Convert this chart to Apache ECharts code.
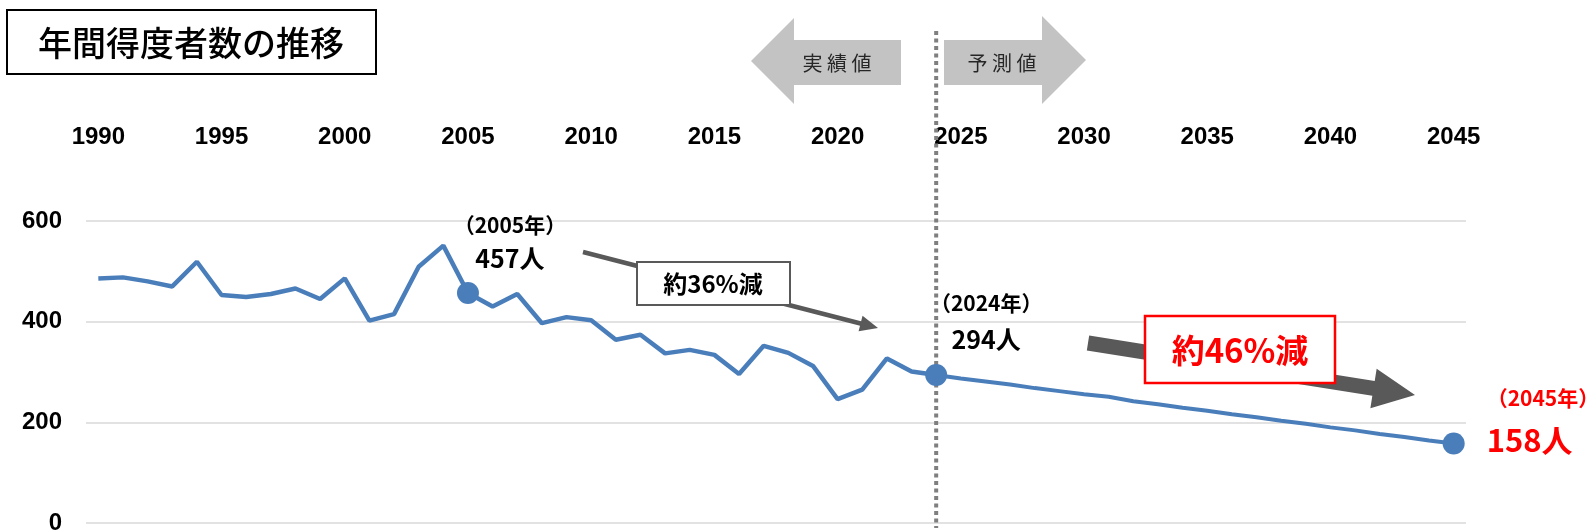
<!DOCTYPE html>
<html>
<head>
<meta charset="utf-8">
<script src="https://cdn.jsdelivr.net/npm/echarts@6/dist/echarts.min.js"></script>
<style>
  html, body { margin: 0; padding: 0; background: #fff; }
  #chart { width: 1592px; height: 531px; }
</style>
</head>
<body>
<div id="chart"></div>
<script>
// 年（カテゴリ）
const years = ['1990','1991','1992','1993','1994','1995','1996','1997','1998','1999',
  '2000','2001','2002','2003','2004','2005','2006','2007','2008','2009',
  '2010','2011','2012','2013','2014','2015','2016','2017','2018','2019',
  '2020','2021','2022','2023','2024','2025','2026','2027','2028','2029',
  '2030','2031','2032','2033','2034','2035','2036','2037','2038','2039',
  '2040','2041','2042','2043','2044','2045'];
// 実績値 1990-2024
const actualValues = [486, 488, 480, 470, 519, 453, 449, 455, 466, 445,
  486, 402, 415, 509, 551, 457, 430, 455, 397, 409,
  403, 364, 374, 337, 344, 334, 296, 352, 338, 312,
  246, 265, 327, 301, 294];
// 予測値 2024-2045
const forecastStart = '2024';
const forecastValues = [294, 287, 281, 275, 268, 262, 256, 251, 242, 236, 229,
  223, 216, 210, 203, 197, 190, 184, 177, 171, 164, 158];
const yTicks = [0, 200, 400, 600];
const calloutYears = ['2005', '2024', '2045'];

const blue = '#4A7EBB';
const numFont = '"Liberation Sans", Arial, sans-serif';
const jpFont = '"Noto Sans CJK JP", sans-serif';

const chart = echarts.init(document.getElementById('chart'));

function blackLabel(offsetX, lh) {
  return {
    show: true, position: 'top', distance: 6, offset: [offsetX, 0],
    align: 'center', fontFamily: jpFont, color: '#000',
    rich: {
      a: { fontSize: 21, fontWeight: 'bold', lineHeight: lh, fontFamily: jpFont, color: '#000' },
      b: { fontSize: 25, fontWeight: 'bold', lineHeight: lh, fontFamily: jpFont, color: '#000' }
    }
  };
}

const actualData = actualValues.map(function (v, i) {
  const y = years[i];
  if (calloutYears.indexOf(y) < 0) return v;
  const label = y === '2005' ? blackLabel(42, 34) : blackLabel(50, 37);
  label.formatter = '{a|（' + y + '年）}\n{b|' + v + '人}';
  return { value: v, symbol: 'circle', symbolSize: 22, label: label };
});

const startIdx = years.indexOf(forecastStart);
const forecastData = years.map(function (y, i) {
  if (i < startIdx) return null;
  const v = forecastValues[i - startIdx];
  if (y === '2045') {
    return {
      value: v, symbol: 'circle', symbolSize: 22,
      label: {
        show: true, position: 'right', distance: 22, offset: [0, -24], align: 'left',
        formatter: '{a|（' + y + '年）}\n{b|' + v + '人}',
        rich: {
          a: { fontSize: 21, fontWeight: 'bold', lineHeight: 42, fontFamily: jpFont, color: '#ff0000' },
          b: { fontSize: 31, fontWeight: 'bold', lineHeight: 42, fontFamily: jpFont, color: '#ff0000' }
        }
      }
    };
  }
  return v;
});

const option = {
  animation: false,
  backgroundColor: '#fff',
  grid: { left: 86, right: 126, top: 221, bottom: 8, containLabel: false, outerBoundsMode: 'none' },
  xAxis: {
    type: 'category',
    position: 'top',
    data: years,
    boundaryGap: true,
    axisLine: { show: false },
    axisTick: { show: false },
    splitLine: { show: false },
    axisLabel: {
      interval: function (idx, val) { return (Number(val) - 1990) % 5 === 0; },
      margin: 72,
      fontSize: 24, fontWeight: 'bold', color: '#000', fontFamily: numFont
    }
  },
  yAxis: {
    type: 'value',
    min: yTicks[0], max: yTicks[yTicks.length - 1], interval: 200,
    axisLine: { show: false },
    axisTick: { show: false },
    splitLine: { lineStyle: { color: '#d9d9d9', width: 1.5 } },
    axisLabel: { margin: 24, fontSize: 24, fontWeight: 'bold', color: '#000', fontFamily: numFont }
  },
  series: [
    {
      name: '実績値', type: 'line', data: actualData,
      symbol: 'none', showSymbol: true, showAllSymbol: true,
      itemStyle: { color: blue },
      lineStyle: { color: blue, width: 4.5 },
      z: 3
    },
    {
      name: '予測値', type: 'line', data: forecastData,
      symbol: 'none', showSymbol: true, showAllSymbol: true,
      itemStyle: { color: blue },
      lineStyle: { color: blue, width: 4 },
      z: 3
    }
  ]
};
chart.setOption(option);

// arrow polygon
function arrowPts(x1, y1, x2, y2, shaft, headLen, headW) {
  const dx = x2 - x1, dy = y2 - y1, L = Math.hypot(dx, dy);
  const ux = dx / L, uy = dy / L, nx = -uy, ny = ux;
  const bx = x2 - ux * headLen, by = y2 - uy * headLen;
  const s = shaft / 2, h = headW / 2;
  return [[x1 + nx * s, y1 + ny * s], [bx + nx * s, by + ny * s], [bx + nx * h, by + ny * h],
    [x2, y2], [bx - nx * h, by - ny * h], [bx - nx * s, by - ny * s], [x1 - nx * s, y1 - ny * s]];
}

function txt(x, y, text, size, weight, color) {
  return {
    type: 'text', x: x, y: y, z: 20,
    style: {
      text: text, fontSize: size, fontWeight: weight, fontFamily: jpFont, fill: color,
      align: 'center', verticalAlign: 'middle', textAlign: 'center', textVerticalAlign: 'middle'
    }
  };
}

const splitX = chart.convertToPixel({ xAxisIndex: 0 }, forecastStart);

chart.setOption({
  graphic: [
    // 区切りの点線
    { type: 'line', z: 1, shape: { x1: splitX, y1: 31, x2: splitX, y2: 528 },
      style: { stroke: '#7f7f7f', lineWidth: 4, lineDash: [4, 3.5] } },
    // タイトル
    { type: 'rect', z: 20, shape: { x: 7, y: 10, width: 369, height: 64 },
      style: { fill: '#fff', stroke: '#000', lineWidth: 2 } },
    txt(191, 43, '年間得度者数の推移', 34, 500, '#000'),
    // 実績値 / 予測値 の矢印
    { type: 'polygon', z: 20, shape: { points: [[751, 61], [794, 18], [794, 40], [901, 40], [901, 85], [794, 85], [794, 104]] },
      style: { fill: '#c3c3c3' } },
    { type: 'polygon', z: 20, shape: { points: [[944, 40], [1042, 40], [1042, 16], [1086, 60], [1042, 104], [1042, 85], [944, 85]] },
      style: { fill: '#c3c3c3' } },
    txt(837, 63, '実 績 値', 20, 'normal', '#262626'),
    txt(1002, 63, '予 測 値', 20, 'normal', '#262626'),
    // 約36%減
    { type: 'polygon', z: 18, shape: { points: arrowPts(583, 252, 878, 328, 4.5, 18, 16) },
      style: { fill: '#595959' } },
    { type: 'rect', z: 20, shape: { x: 637, y: 262, width: 153, height: 43 },
      style: { fill: '#fff', stroke: '#595959', lineWidth: 2 } },
    txt(713, 284, '約36%減', 24, 'bold', '#000'),
    // 約46%減
    { type: 'polygon', z: 18, shape: { points: arrowPts(1088, 343, 1415, 395, 15, 42, 40) },
      style: { fill: '#595959' } },
    { type: 'rect', z: 20, shape: { x: 1145, y: 316, width: 190, height: 67 },
      style: { fill: '#fff', stroke: '#ff0000', lineWidth: 2.5 } },
    txt(1240, 350, '約46%減', 33, 'bold', '#ff0000')
  ]
});
</script>
</body>
</html>
